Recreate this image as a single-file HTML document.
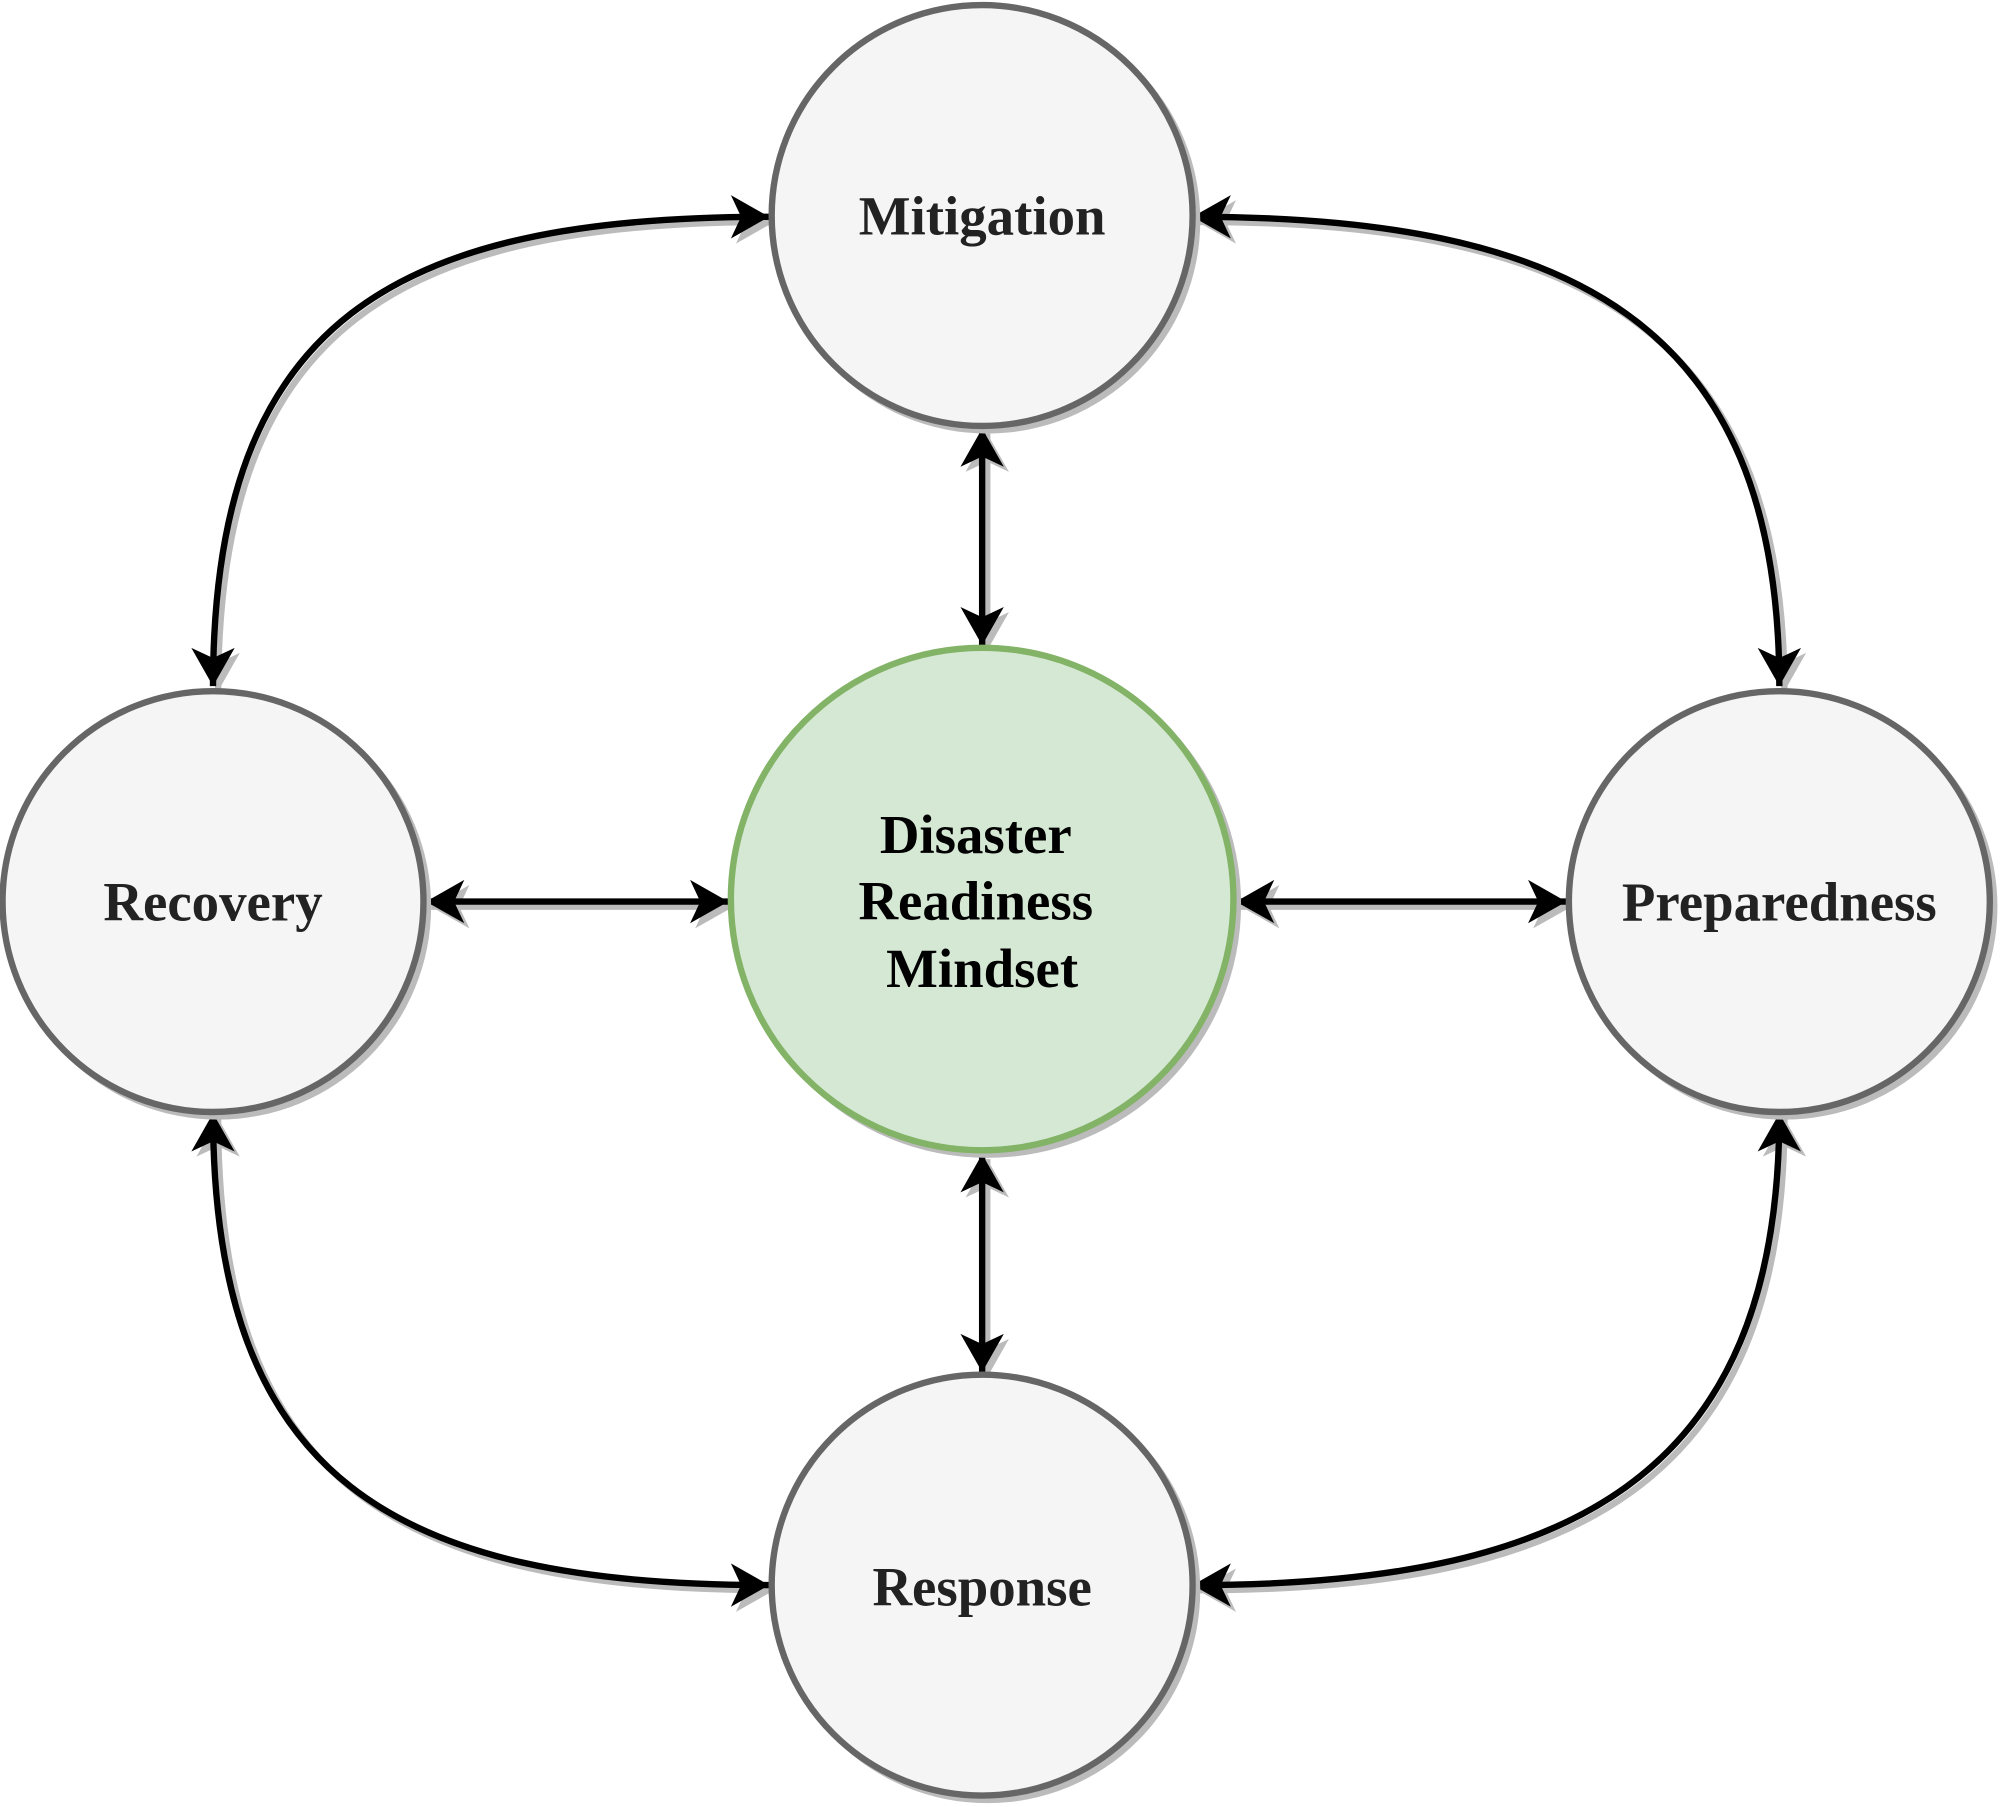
<!DOCTYPE html>
<html><head><meta charset="utf-8"><style>html,body{margin:0;padding:0;background:#fff}svg{display:block}</style></head>
<body>
<svg width="2000" height="1807" viewBox="0 0 1568 1417" preserveAspectRatio="none" xmlns="http://www.w3.org/2000/svg">
<defs>
<marker id="a" markerUnits="userSpaceOnUse" markerWidth="40" markerHeight="40" viewBox="-32 -20 34 40" refX="0" refY="0" orient="auto-start-reverse"><path d="M0,0 L-30,-17 L-22,0 L-30,17 z" fill="#000"/></marker>
<marker id="g" markerUnits="userSpaceOnUse" markerWidth="40" markerHeight="40" viewBox="-32 -20 34 40" refX="0" refY="0" orient="auto-start-reverse"><path d="M0,0 L-30,-17 L-22,0 L-30,17 z" fill="#bbb"/></marker>
</defs>
<g fill="none" stroke-width="5">
<g stroke="#bbb" transform="translate(4,4)">
<path d="M167,538 C167,250 310,170 603,170" marker-start="url(#g)" marker-end="url(#g)"/>
<path d="M1395,538 C1395,250 1228,170 935,170" marker-start="url(#g)" marker-end="url(#g)"/>
<path d="M167,873 C167,1161 310,1243 603,1243" marker-start="url(#g)" marker-end="url(#g)"/>
<path d="M1395,873 C1395,1161 1228,1243 935,1243" marker-start="url(#g)" marker-end="url(#g)"/>
<path d="M770,336 L770,506" marker-start="url(#g)" marker-end="url(#g)"/>
<path d="M770,905 L770,1076" marker-start="url(#g)" marker-end="url(#g)"/>
<path d="M334,707 L571,707" marker-start="url(#g)" marker-end="url(#g)"/>
<path d="M969,707 L1228,707" marker-start="url(#g)" marker-end="url(#g)"/>
</g>
<g stroke="#000">
<path d="M167,538 C167,250 310,170 603,170" marker-start="url(#a)" marker-end="url(#a)"/>
<path d="M1395,538 C1395,250 1228,170 935,170" marker-start="url(#a)" marker-end="url(#a)"/>
<path d="M167,873 C167,1161 310,1243 603,1243" marker-start="url(#a)" marker-end="url(#a)"/>
<path d="M1395,873 C1395,1161 1228,1243 935,1243" marker-start="url(#a)" marker-end="url(#a)"/>
<path d="M770,336 L770,506" marker-start="url(#a)" marker-end="url(#a)"/>
<path d="M770,905 L770,1076" marker-start="url(#a)" marker-end="url(#a)"/>
<path d="M334,707 L571,707" marker-start="url(#a)" marker-end="url(#a)"/>
<path d="M969,707 L1228,707" marker-start="url(#a)" marker-end="url(#a)"/>
</g>
</g>
<g fill="#bbb">
<circle cx="774" cy="173" r="167"/>
<circle cx="171" cy="711" r="167"/>
<circle cx="1399" cy="711" r="167"/>
<circle cx="774" cy="1247" r="167"/>
<circle cx="774" cy="709" r="199"/>
</g>
<g fill="#f5f5f5" stroke="#666" stroke-width="5">
<circle cx="770" cy="169" r="165"/>
<circle cx="167" cy="707" r="165"/>
<circle cx="1395" cy="707" r="165"/>
<circle cx="770" cy="1243" r="165"/>
</g>
<circle cx="770" cy="705" r="197" fill="#d5e8d4" stroke="#82b366" stroke-width="5"/>
<g font-family="Liberation Serif, serif" font-weight="bold" font-size="43" fill="#222" text-anchor="middle">
<text x="770" y="184">Mitigation</text>
<text x="167" y="722">Recovery</text>
<text x="1395" y="722">Preparedness</text>
<text x="770" y="1259">Response</text>
<text x="765" y="669" fill="#000">Disaster</text>
<text x="765" y="721" fill="#000">Readiness</text>
<text x="770" y="774" fill="#000">Mindset</text>
</g>
</svg>
</body></html>
